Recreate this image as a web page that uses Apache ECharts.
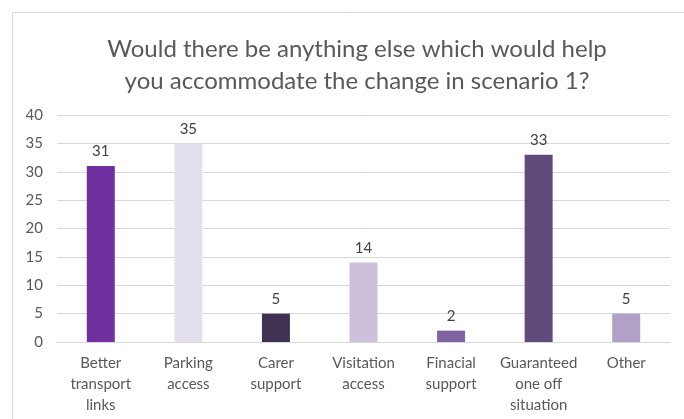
<!DOCTYPE html>
<html>
<head>
<meta charset="utf-8">
<script src="https://cdn.jsdelivr.net/npm/echarts@6/dist/echarts.min.js"></script>
<style>
  html, body { margin: 0; padding: 0; background: #fff; }
  #chart { width: 684px; height: 419px; }
</style>
</head>
<body>
<div id="chart"></div>
<script>
const categories = [
    'Better\ntransport\nlinks',
    'Parking\naccess',
    'Carer\nsupport',
    'Visitation\naccess',
    'Finacial\nsupport',
    'Guaranteed\none off\nsituation',
    'Other'
];
const values = [31, 35, 5, 14, 2, 33, 5];
const barColors = ['#7030A0', '#E4DFEC', '#3F3151', '#CCC0DA', '#8064A2', '#604A7B', '#B1A0C7'];
const yTicks = [0, 5, 10, 15, 20, 25, 30, 35, 40];

const font = 'Lato, "Open Sans", sans-serif';
const chart = echarts.init(document.getElementById('chart'));

chart.setOption({
    animation: false,
    title: {
        text: 'Would there be anything else which would help\nyou accommodate the change in scenario 1?',
        left: 352,
        textAlign: 'center',
        top: 28,
        textStyle: {
            color: '#595959',
            fontFamily: font,
            fontWeight: 'normal',
            fontSize: 24,
            lineHeight: 32
        }
    },
    graphic: [{
        type: 'rect',
        shape: { x: 12.5, y: 12.5, width: 700, height: 440 },
        style: { fill: 'none', stroke: '#D9D9D9', lineWidth: 1 },
        silent: true
    }],
    grid: {
        left: 57,
        right: 14,
        top: 115,
        bottom: 77
    },
    xAxis: {
        type: 'category',
        data: categories,
        axisTick: { show: false },
        axisLine: { lineStyle: { color: '#D9D9D9' } },
        axisLabel: {
            color: '#595959',
            fontFamily: font,
            fontSize: 15,
            lineHeight: 21,
            margin: 11,
            interval: 0
        }
    },
    yAxis: {
        type: 'value',
        min: yTicks[0],
        max: yTicks[yTicks.length - 1],
        interval: 5,
        axisLine: { show: false },
        axisTick: { show: false },
        splitLine: { lineStyle: { color: '#D9D9D9' } },
        axisLabel: {
            color: '#595959',
            fontFamily: font,
            fontSize: 15,
            margin: 14
        }
    },
    series: [{
        type: 'bar',
        data: values.map((v, i) => ({ value: v, itemStyle: { color: barColors[i] } })),
        barWidth: 28,
        label: {
            show: true,
            position: 'top',
            distance: 7,
            color: '#404040',
            fontFamily: font,
            fontSize: 15
        }
    }]
});
</script>
</body>
</html>
